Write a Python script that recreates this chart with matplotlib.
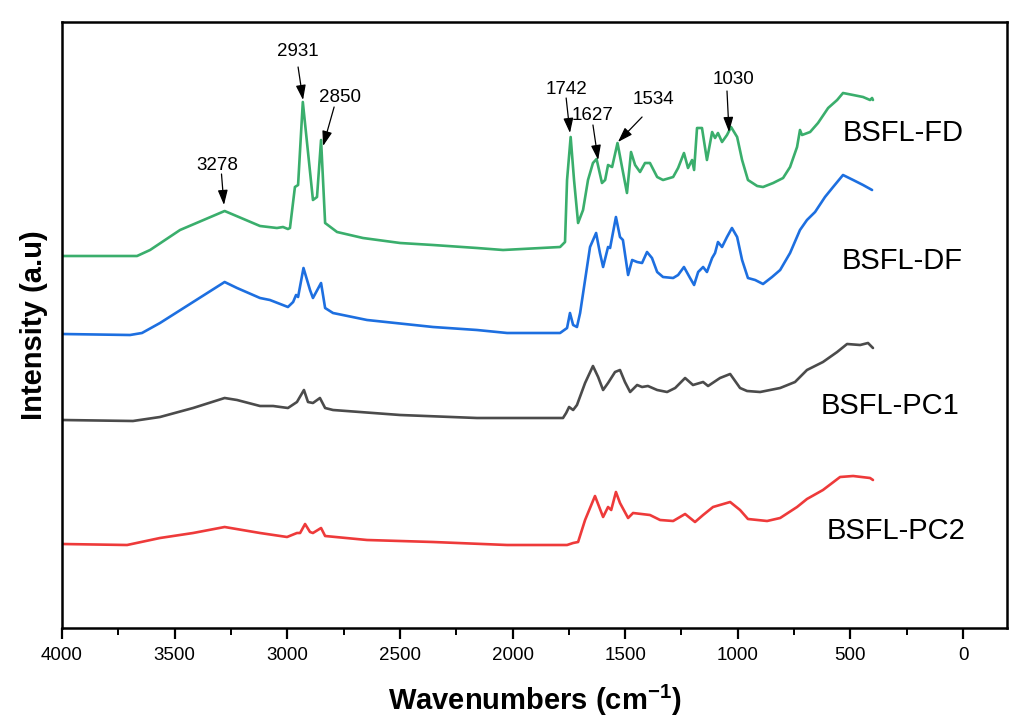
import matplotlib
matplotlib.use("Agg")
import matplotlib.pyplot as plt
from matplotlib.ticker import MultipleLocator

plt.rcParams['font.family'] = ['Liberation Sans', 'DejaVu Sans']

# ---------------- data (wavenumber, offset intensity a.u.) ----------------
fd_x = [4000, 3667, 3609, 3476, 3278, 3121, 3046, 3019, 2997, 2988, 2966, 2952, 2931,
        2886, 2868, 2850, 2832, 2779, 2664, 2499, 2353, 2158, 2042, 1789, 1767, 1758,
        1742, 1727, 1709, 1687, 1665, 1643, 1627, 1603, 1589, 1576, 1558, 1534, 1514,
        1492, 1474, 1456, 1434, 1412, 1390, 1358, 1332, 1287, 1265, 1239, 1221, 1203,
        1194, 1181, 1159, 1137, 1114, 1101, 1088, 1070, 1048, 1030, 1003, 981, 955,
        914, 888, 843, 799, 768, 737, 724, 715, 679, 644, 599, 559, 533, 488, 444,
        413, 404, 400]
fd_y = [372, 372, 378, 398, 417, 402, 400, 401, 399, 400, 441, 443, 526,
        428, 431, 488, 405, 396, 390, 385, 383, 380, 378, 381, 386, 448,
        491, 448, 405, 418, 448, 465, 469, 445, 448, 463, 461, 485, 461,
        435, 476, 463, 456, 465, 465, 451, 448, 451, 460, 475, 460, 468,
        458, 500, 500, 468, 496, 490, 495, 486, 493, 501, 491, 468, 448,
        442, 441, 445, 450, 461, 481, 498, 493, 496, 505, 520, 528, 535, 533, 531,
        528, 530, 528]

df_x = [4000, 3698, 3645, 3565, 3418, 3278, 3223, 3121, 3077, 2997, 2974, 2961, 2952,
        2928, 2899, 2886, 2850, 2832, 2797, 2646, 2353, 2158, 2024, 1789, 1758, 1745,
        1731, 1714, 1700, 1678, 1656, 1629, 1612, 1598, 1576, 1567, 1541, 1523, 1510,
        1487, 1469, 1447, 1425, 1403, 1381, 1358, 1332, 1287, 1265, 1239, 1212, 1194,
        1176, 1154, 1137, 1114, 1101, 1088, 1070, 1048, 1026, 1003, 981, 955, 923,
        888, 848, 812, 768, 724, 693, 657, 613, 577, 533, 488, 444, 404]
df_y = [294, 293, 295, 305, 326, 346, 340, 330, 328, 321, 326, 333, 331,
        360, 338, 330, 345, 320, 315, 308, 301, 298, 295, 295, 300, 315,
        303, 301, 315, 348, 381, 395, 375, 361, 381, 380, 411, 391, 388,
        353, 368, 366, 365, 376, 370, 356, 351, 350, 353, 361, 350, 343,
        356, 361, 356, 370, 375, 386, 381, 391, 400, 391, 368, 350, 348,
        344, 351, 358, 375, 398, 408, 416, 431, 441, 453, 448, 443, 438]

pc1_x = [4000, 3685, 3565, 3418, 3278, 3223, 3121, 3063, 2997, 2957, 2926, 2908, 2886,
         2855, 2832, 2797, 2499, 2158, 1776, 1762, 1749, 1731, 1714, 1678, 1643, 1620,
         1598, 1576, 1545, 1523, 1501, 1478, 1447, 1425, 1399, 1358, 1314, 1278, 1234,
         1199, 1154, 1132, 1079, 1034, 990, 959, 901, 812, 746, 693, 622, 559, 515,
         457, 422, 400]
pc1_y = [208, 207, 211, 220, 230, 228, 222, 222, 220, 226, 238, 226, 225,
         230, 220, 218, 213, 210, 210, 215, 221, 218, 223, 245, 262, 251,
         238, 245, 256, 258, 246, 236, 243, 241, 242, 238, 236, 240, 250,
         243, 246, 242, 250, 254, 240, 237, 236, 240, 246, 258, 266, 276, 284,
         283, 285, 280]

pc2_x = [4000, 3711, 3565, 3418, 3278, 3121, 3001, 2957, 2943, 2921, 2899, 2886, 2850,
         2832, 2646, 2353, 2024, 1758, 1731, 1709, 1678, 1634, 1598, 1576, 1562, 1541,
         1523, 1487, 1465, 1390, 1345, 1287, 1234, 1190, 1154, 1110, 1034, 990, 955,
         870, 812, 737, 693, 622, 546, 488, 413, 400]
pc2_y = [84, 83, 90, 95, 101, 95, 91, 95, 95, 104, 96, 95, 100,
         92, 88, 86, 83, 83, 85, 86, 108, 132, 111, 121, 118, 136,
         125, 110, 115, 113, 108, 107, 114, 106, 113, 121, 126, 118, 109,
         107, 110, 121, 129, 138, 151, 152, 150, 148]

series_names = ['BSFL-FD', 'BSFL-DF', 'BSFL-PC1', 'BSFL-PC2']
series_colors = ['#3aae6c', '#1d6fe0', '#4b4b4b', '#ee3a3a']

# peak labels: text, text position, arrow tail, arrow tip
peak_labels = ['3278', '2931', '2850', '1742', '1627', '1534', '1030']
peak_text_xy = [(3312, 462), (2952, 576), (2766, 530), (1762, 538),
                (1643, 512), (1376, 528), (1017, 548)]
peak_tail_xy = [(3292, 454), (2952, 561), (2792, 521), (1762, 530),
                (1643, 503), (1425, 511), (1048, 537)]
peak_tip_xy = [(3281, 423), (2930, 528), (2841, 482), (1745, 495),
               (1620, 468), (1532, 486), (1039, 496)]

name_xy = [(266, 495), (271, 367), (324, 222), (298, 97)]

# ---------------- figure ----------------
fig = plt.figure(figsize=(10.10, 7.24), dpi=100)
ax = fig.add_axes([62/1010, 1 - 628/724, (1007 - 62)/1010, (628 - 22)/724])

xs = [fd_x, df_x, pc1_x, pc2_x]
ys = [fd_y, df_y, pc1_y, pc2_y]
for x, y, c in zip(xs, ys, series_colors):
    ax.plot(x, y, color=c, lw=1.9, solid_joinstyle='round', solid_capstyle='round')

for name, (tx, ty) in zip(series_names, name_xy):
    ax.text(tx, ty, name, fontsize=21, ha='center', va='center', color='black')

for lab, txy, tail, tip in zip(peak_labels, peak_text_xy, peak_tail_xy, peak_tip_xy):
    ax.text(txy[0], txy[1], lab, fontsize=13.5, ha='center', va='center')
    ax.annotate('', xy=tip, xytext=tail,
                arrowprops=dict(arrowstyle='-|>,head_length=0.9,head_width=0.3',
                                color='black', lw=0.9, shrinkA=0, shrinkB=0))

ax.set_xlim(4000, -195)
ax.set_ylim(0, 606)
ax.xaxis.set_major_locator(MultipleLocator(500))
ax.xaxis.set_minor_locator(MultipleLocator(250))
ax.set_xticks([4000, 3500, 3000, 2500, 2000, 1500, 1000, 500, 0])
ax.set_yticks([])
ax.tick_params(axis='x', which='major', direction='out', length=8, width=1.6,
               labelsize=13.5, pad=6)
ax.tick_params(axis='x', which='minor', direction='out', length=5, width=1.4)
for s in ax.spines.values():
    s.set_linewidth(1.8)

ax.set_xlabel('Wavenumbers (cm$^{\\mathregular{-1}}$)', fontsize=21, fontweight='bold',
              labelpad=13)
ax.set_ylabel('Intensity (a.u)', fontsize=21, fontweight='bold', labelpad=10)

fig.savefig('out.png', dpi=100)
